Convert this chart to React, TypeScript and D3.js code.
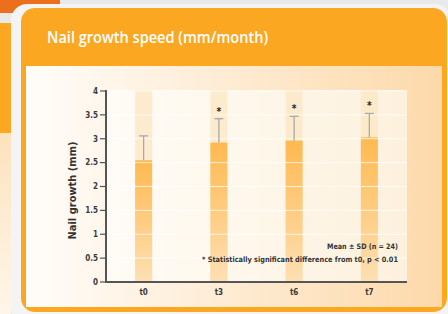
import * as d3 from "d3";

const categories = ["t0", "t3", "t6", "t7"];
const means = [2.55, 2.92, 2.96, 3.03];
const sds = [0.51, 0.5, 0.51, 0.5];
const significant = [false, true, true, true];
const yTicks = [0, 0.5, 1, 1.5, 2, 2.5, 3, 3.5, 4];
const yTickLabels = ["0", "0.5", "1", "1.5", "2", "2.5", "3", "3.5", "4"];

const W = 448;
const H = 314;
const plot = { left: 106, right: 407, top: 91, bottom: 282 };
const condensed = "'DejaVu Sans Condensed', 'DejaVu Sans', sans-serif";

export default function App() {
  const x = d3
    .scalePoint<string>()
    .domain(categories)
    .range([plot.left, plot.right])
    .padding(0.5);
  const y = d3.scaleLinear().domain([0, 4]).range([plot.bottom, plot.top]);
  const barW = 17;
  const capW = 9;

  return (
    <svg
      width={W}
      height={H}
      style={{ position: "absolute", left: 0, top: 0 }}
      viewBox={`0 0 ${W} ${H}`}
    >
      <defs>
        <linearGradient id="panel" x1="0" x2="1" y1="0" y2="0">
          <stop offset="0" stopColor="#fffdfa" />
          <stop offset="1" stopColor="#fdd9aa" />
        </linearGradient>
        <linearGradient id="plotbg" x1="0" x2="1" y1="0" y2="0">
          <stop offset="0" stopColor="#fffcf6" />
          <stop offset="1" stopColor="#fdf1dd" />
        </linearGradient>
        <linearGradient id="bar" x1="0" x2="0" y1="0" y2="1">
          <stop offset="0" stopColor="#ffb94f" />
          <stop offset="1" stopColor="#fde0b4" />
        </linearGradient>
        <linearGradient id="leftstrip" x1="0" x2="0" y1="0" y2="1">
          <stop offset="0" stopColor="#fde2bd" />
          <stop offset="1" stopColor="#fff6ea" />
        </linearGradient>
      </defs>

      {/* page background and stuff behind the card */}
      <rect width={W} height={H} fill="#e9e9ea" />
      <rect x={0} y={0} width={60} height={13} fill="#ec6f1e" />
      <rect x={0} y={23} width={11} height={110} fill="#fba722" />
      <rect x={0} y={133} width={11} height={181} fill="url(#leftstrip)" />
      <rect x={11} y={4} width={440} height={320} rx={16} fill="#f4f4f5" />

      {/* card */}
      <rect x={21} y={8} width={426} height={304} rx={14} fill="#fba722" />
      <rect x={26} y={66} width={416} height={241} fill="url(#panel)" />
      <text
        x={47}
        y={43}
        fill="#fff"
        fontFamily="'Open Sans', sans-serif"
        fontSize={15.5}
        fontWeight={600}
        textLength={221}
        lengthAdjust="spacingAndGlyphs"
      >
        Nail growth speed (mm/month)
      </text>

      {/* plot background */}
      <rect
        x={plot.left}
        y={plot.top - 1}
        width={plot.right - plot.left}
        height={plot.bottom - plot.top + 1}
        fill="url(#plotbg)"
      />

      {/* pale columns */}
      {categories.map((c) => (
        <rect
          key={"col" + c}
          x={(x(c) as number) - barW / 2}
          y={plot.top - 1}
          width={barW}
          height={plot.bottom - plot.top + 1}
          fill="#fde7c6"
          opacity={0.8}
        />
      ))}

      {/* bars */}
      {categories.map((c, i) => (
        <rect
          key={"bar" + c}
          x={(x(c) as number) - barW / 2}
          y={y(means[i])}
          width={barW}
          height={plot.bottom - y(means[i])}
          fill="url(#bar)"
        />
      ))}

      {/* gridlines */}
      {yTicks.slice(1).map((t) => (
        <line
          key={"g" + t}
          x1={plot.left}
          x2={plot.right}
          y1={y(t)}
          y2={y(t)}
          stroke="#fff"
          strokeOpacity={0.75}
          strokeWidth={1}
        />
      ))}

      {/* error bars */}
      {categories.map((c, i) => {
        const cx = x(c) as number;
        const top = y(means[i] + sds[i]);
        return (
          <g key={"e" + c} stroke="#a9a9a9" strokeWidth={1.3}>
            <line x1={cx} x2={cx} y1={y(means[i])} y2={top} />
            <line x1={cx - capW / 2} x2={cx + capW / 2} y1={top} y2={top} />
          </g>
        );
      })}

      {/* significance stars */}
      {categories.map((c, i) =>
        significant[i] ? (
          <text
            key={"s" + c}
            x={x(c) as number}
            y={y(means[i] + sds[i]) - 4}
            textAnchor="middle"
            fontFamily={condensed}
            fontSize={10}
            fontWeight="bold"
            fill="#222"
          >
            *
          </text>
        ) : null
      )}

      {/* axes */}
      <line
        x1={plot.left}
        x2={plot.left}
        y1={plot.top - 1}
        y2={plot.bottom + 1}
        stroke="#555"
        strokeWidth={2}
      />
      <line
        x1={plot.left - 1}
        x2={plot.right}
        y1={plot.bottom}
        y2={plot.bottom}
        stroke="#555"
        strokeWidth={2}
      />
      {yTicks.map((t, i) => (
        <g key={"yt" + t}>
          <line
            x1={plot.left - 6}
            x2={plot.left}
            y1={y(t)}
            y2={y(t)}
            stroke="#555"
            strokeWidth={1.2}
          />
          <text
            x={plot.left - 8}
            y={y(t)}
            dy="0.35em"
            textAnchor="end"
            fontFamily={condensed}
            fontSize={8}
            fontWeight="bold"
            fill="#3a3a3a"
          >
            {yTickLabels[i]}
          </text>
        </g>
      ))}
      {categories.map((c) => (
        <text
          key={"xt" + c}
          x={x(c) as number}
          y={295}
          textAnchor="middle"
          fontFamily={condensed}
          fontSize={8}
          fontWeight="bold"
          fill="#3a3a3a"
        >
          {c}
        </text>
      ))}

      <text
        transform={`translate(76,${(plot.top + plot.bottom) / 2 + 4}) rotate(-90)`}
        textAnchor="middle"
        fontFamily={condensed}
        fontSize={11}
        fontWeight="bold"
        fill="#333"
      >
        Nail growth (mm)
      </text>

      {/* notes */}
      <text
        x={398}
        y={249}
        textAnchor="end"
        fontFamily={condensed}
        fontSize={7.5}
        fontWeight="bold"
        fill="#333"
        textLength={71}
        lengthAdjust="spacingAndGlyphs"
      >
        Mean ± SD (n = 24)
      </text>
      <text
        x={398}
        y={262}
        textAnchor="end"
        fontFamily={condensed}
        fontSize={7.5}
        fontWeight="bold"
        fill="#333"
        textLength={196}
        lengthAdjust="spacingAndGlyphs"
      >
        * Statistically significant difference from t0, p &lt; 0.01
      </text>
    </svg>
  );
}
